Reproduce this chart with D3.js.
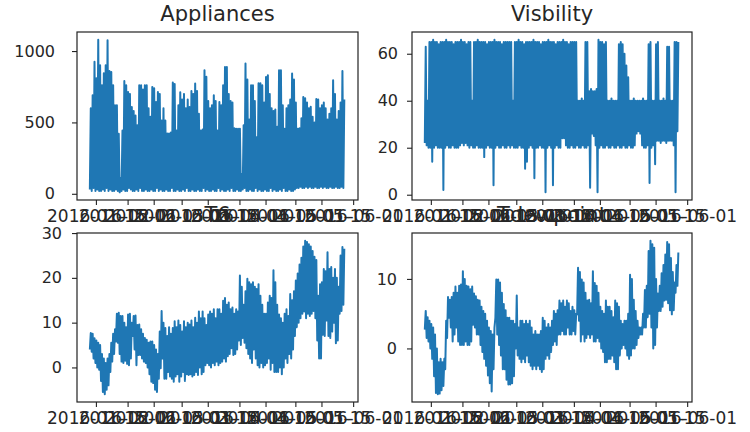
<!DOCTYPE html>
<html>
<head>
<meta charset="utf-8">
<script src="https://cdn.jsdelivr.net/npm/d3@7"></script>
<style>
  body { margin: 0; background: #fff; }
  text { font-family: "DejaVu Sans", sans-serif; }
</style>
</head>
<body>
<div id="chart"></div>
<script>
const width = 750;
const height = 432;

// Time axis: one low sample per day, the day's high 12h later
const startTime = "2016-01-11T18:00";
const dataRange = ["2016-01-11T17:00", "2016-05-27T18:00"];
const tickDates = ["2016-01-15", "2016-02-01", "2016-02-15", "2016-03-01", "2016-03-15",
                   "2016-04-01", "2016-04-15", "2016-05-01", "2016-05-15", "2016-06-01"];

const titles = ["Appliances", "Visbility", "T6", "Tdewpoint"];

const appliancesHigh = [
  600, 690, 925, 810, 1080, 900, 760, 845, 900, 1075,
  860, 854, 760, 620, 620, 420, 110, 444, 791, 760,
  713, 700, 608, 580, 549, 480, 760, 760, 730, 760,
  760, 600, 540, 749, 740, 643, 713, 700, 514, 600,
  514, 422, 422, 430, 780, 770, 444, 620, 712, 660,
  700, 600, 660, 608, 720, 700, 772, 720, 560, 444,
  450, 866, 820, 650, 600, 620, 690, 650, 444, 643,
  620, 760, 889, 889, 700, 650, 640, 460, 455, 455,
  455, 138, 480, 913, 800, 520, 760, 760, 650, 396,
  775, 775, 760, 640, 819, 830, 700, 600, 580, 590,
  470, 866, 866, 620, 455, 600, 620, 660, 843, 800,
  640, 455, 460, 530, 678, 670, 640, 600, 610, 540,
  500, 664, 660, 600, 620, 640, 600, 520, 560, 600,
  796, 700, 520, 580, 640, 860, 660
];
const appliancesLow = [
  30, 20, 40, 20, 30, 20, 20, 30, 20, 40,
  20, 30, 20, 20, 30, 20, 10, 20, 30, 20,
  20, 40, 30, 20, 20, 30, 20, 40, 20, 20,
  30, 20, 20, 30, 20, 20, 40, 20, 30, 20,
  20, 30, 20, 20, 40, 20, 20, 30, 20, 20,
  30, 20, 40, 20, 20, 30, 20, 20, 30, 20,
  20, 40, 20, 30, 20, 20, 30, 20, 20, 40,
  20, 30, 20, 20, 30, 20, 40, 20, 20, 30,
  20, 20, 30, 40, 20, 20, 30, 20, 20, 40,
  20, 30, 20, 20, 30, 20, 20, 40, 20, 30,
  20, 20, 30, 20, 40, 20, 20, 30, 20, 20,
  30, 40, 40, 50, 40, 40, 50, 40, 50, 40,
  40, 50, 40, 40, 50, 40, 50, 40, 40, 50,
  40, 40, 50, 40, 40, 50, 40
];

const visibilityHigh = [
  63, 40, 65, 65, 66, 65, 65, 64, 65, 65,
  65, 66, 65, 65, 65, 64, 65, 65, 65, 66,
  65, 65, 64, 65, 65, 40, 65, 65, 66, 65,
  65, 65, 65, 64, 65, 65, 65, 66, 65, 65,
  65, 64, 65, 65, 65, 65, 65, 40, 65, 65,
  66, 65, 65, 64, 65, 65, 65, 65, 66, 65,
  65, 65, 64, 65, 65, 65, 66, 65, 65, 65,
  64, 65, 65, 65, 66, 65, 65, 64, 65, 65,
  65, 65, 40, 40, 41, 40, 65, 65, 44, 45,
  44, 44, 45, 66, 65, 65, 64, 65, 40, 40,
  41, 40, 40, 40, 64, 65, 64, 60, 55, 50,
  40, 40, 41, 40, 40, 40, 40, 41, 40, 40,
  64, 65, 40, 40, 64, 65, 40, 40, 41, 40,
  63, 63, 40, 40, 65, 65, 65
];
const visibilityLow = [
  22, 21, 20, 20, 14, 20, 21, 20, 20, 20,
  2, 20, 21, 20, 20, 21, 20, 20, 20, 21,
  22, 21, 22, 21, 20, 21, 20, 20, 21, 20,
  20, 20, 16, 20, 21, 20, 20, 4, 20, 21,
  20, 20, 21, 20, 20, 21, 20, 21, 20, 20,
  20, 21, 20, 20, 11, 14, 20, 21, 20, 7,
  20, 20, 21, 20, 20, 1, 20, 21, 20, 4,
  20, 21, 20, 20, 24, 24, 21, 20, 20, 21,
  20, 20, 21, 20, 20, 21, 20, 20, 21, 3,
  26, 25, 21, 1, 20, 21, 20, 20, 21, 20,
  20, 21, 20, 20, 21, 20, 20, 21, 20, 20,
  21, 20, 20, 21, 26, 27, 26, 21, 20, 20,
  21, 5, 20, 21, 13, 23, 23, 22, 23, 23,
  22, 23, 23, 23, 21, 1, 27
];

const t6High = [
  7.7, 7.5, 6.5, 6, 5.5, 5, 3, 2, 1, 2,
  3, 5.5, 7.5, 8.5, 12, 12.2, 11.5, 11.5, 10, 9,
  11.8, 12, 10, 11.5, 11.6, 9.5, 9.6, 8.5, 7.5, 6.6,
  6.2, 5.5, 5.8, 5.8, 5, 4, 3, 8, 12.6, 10,
  8.8, 7, 9, 7.5, 8.8, 10.3, 9, 10.5, 9.5, 8,
  10.3, 9, 10, 9.6, 10.5, 9, 11.1, 10, 12.5, 11,
  12.5, 11, 9.5, 11.8, 12.5, 12, 13, 11, 13, 13,
  12, 14.9, 15.5, 14, 14.5, 13, 13.4, 12, 13, 12.5,
  20.5, 18, 14, 17, 19.8, 19, 18.6, 19, 18, 17.5,
  18.6, 16, 14, 12, 12, 14.5, 16, 15.5, 21.7, 19,
  14, 11.8, 11, 10, 12, 13, 11.5, 16.4, 15, 17,
  19.4, 21, 23, 24.5, 27, 28.3, 28, 27.5, 27, 26,
  24.7, 24, 16, 18.6, 19, 22, 21.5, 25.7, 22, 22.4,
  20, 22, 20, 18, 25, 26.9, 26.5
];
const t6Low = [
  4, 3.5, 2, 1, 0, -0.5, -3, -5.5, -6, -5,
  -4, -1, 1.3, 3, 5.8, 5.5, 3, 1.3, 1, 1.5,
  0.8, 0.5, 2, 7, 4, 0.5, 2.8, 2.8, 2, 1.3,
  1, 0, -1.5, -3.2, -3.5, -5, -5.5, -2.5, -0.2, 2,
  -2.5, -2.5, -1, -2, -2.5, -3.2, -2, -1.5, -3.2, -2,
  -1, -3, -1.5, -1.7, -1.5, -2, -1.7, -1, -1.7, 0,
  -1.5, -1, 0.5, 1, 0.5, 0, 1, 0.5, 1.3, 0.5,
  1, 1.3, 2, 1.3, 2.5, 3, 4.3, 2.8, 3, 4,
  6, 5, 6.6, 5.5, 4.3, 3, 2, 1, 4, 2,
  0.5, 0, 1, 0, 0.5, 1, 2, -0.5, 1, -1,
  -1, -1, 0, -1.5, 0, 2, 1, 3, 2, 4,
  7, 9, 10, 11, 12, 12.5, 11, 12, 11.5, 12,
  12.6, 11, 6, 2, 2, 7.3, 7, 10.5, 7, 6.6,
  8, 10, 5.4, 6, 12, 12.6, 14
];

const dewHigh = [
  5.4, 4.5, 4, 3.5, 3, 2, 0, -2, -1.5, -2,
  -1.5, 4, 7.4, 7, 7.4, 8, 8.9, 8, 9, 9.2,
  11.1, 10, 9, 8.9, 8.5, 8.9, 7.9, 7.5, 7, 6.9,
  6, 5.4, 5, 4, 3, 2.5, 2, 3, 9.9, 9.9,
  9.5, 8, 6.4, 5.5, 4.4, 4.4, 4, 4, 3.5, 7.6,
  3, 4, 4, 3.5, 4, 3.5, 4, 3, 2, 2.5,
  2, 2, 2.5, 4.4, 4, 3, 3.5, 3, 4, 5.4,
  5, 5.5, 6.9, 6.5, 6.9, 6, 6.9, 6.5, 5.4, 6,
  5.5, 5, 11.6, 11, 9.9, 9.5, 8, 6.9, 7, 6.5,
  11.1, 9.4, 9, 8, 6, 5.4, 5, 6.9, 6, 6,
  5.4, 4.5, 6.9, 6.5, 6, 4, 3.5, 4, 4, 5,
  10.6, 10, 7, 5.4, 4, 3, 3, 5, 8.4, 9,
  14, 15.5, 15, 14.5, 10, 7.9, 9, 10.8, 12, 13.5,
  15.3, 15, 13, 11, 9.5, 12, 13.8
];
const dewLow = [
  2.7, 1.5, 1, 0, -1.5, -4, -6.4, -6.6, -6.5, -6,
  -5.4, -3, 1.5, 4.4, 3, 1, 2, 3, 1, 0.5,
  0.5, 0.5, 1, 0.5, 0.5, 1, 3.4, 3, 2, 2,
  0.5, -0.5, -1.5, -2.5, -3.9, -5, -6.2, -3, 4.4, 2,
  0.5, -1, -3, -3, -4.5, -5.2, -5.2, -5, -4, 0,
  -1, -1.5, -2, -1.5, -2, -1, -2, -2.5, -3, -2.5,
  -3, -2.5, -3, -3.4, -3, -1.5, -1, -1.5, -0.5, 0.5,
  1, 0.5, 2, 2, 2.5, 2, 2, 3, 2, 2,
  2.5, 2, 4.9, 4, 1, 2, 1, 1.5, 2, 1.5,
  2, 1, 1, 1.5, 1, 0, -0.5, -2, -2, -1.5,
  -1.5, -1, -2, -3, -3, -1, 0, 0.5, 0, -1,
  -1.5, -1, 0, 0, 0.5, 1.5, 2, 2, 3, 3,
  4.5, 5, 3, 0, 0.5, 3, 5.4, 5.4, 6, 6.9,
  7, 6.5, 5.5, 4.9, 5.5, 8, 9
];

const yTicks = [[0, 500, 1000], [0, 20, 40, 60], [0, 10, 20, 30], [0, 10]];

const parseTime = d3.utcParse("%Y-%m-%dT%H:%M");
const parseDay = d3.utcParse("%Y-%m-%d");
const fmt = d3.utcFormat("%Y-%m-%d");
const day = 864e5;
const t0 = parseTime(startTime);

// alternate low / high so the dense series reads as a filled band
function zigzag(lo, hi) {
  const pts = [];
  lo.forEach((v, i) => {
    pts.push([new Date(+t0 + i * day), v]);
    pts.push([new Date(+t0 + i * day + day / 2), hi[i]]);
  });
  return pts;
}

const series = [
  zigzag(appliancesLow, appliancesHigh),
  zigzag(visibilityLow, visibilityHigh),
  zigzag(t6Low, t6High),
  zigzag(dewLow, dewHigh)
];

const boxes = [
  {x0: 77, x1: 358, y0: 32, y1: 200, pad: 17},
  {x0: 412, x1: 692, y0: 32, y1: 200, pad: 9},
  {x0: 77, x1: 358, y0: 233, y1: 402, pad: 10},
  {x0: 412, x1: 692, y0: 233, y1: 402, pad: 10}
];

const svg = d3.select("#chart")
  .append("svg")
  .attr("width", width)
  .attr("height", height);

// matplotlib-like 5% margins on both axes
const xr = dataRange.map(parseTime);
const xPad = (xr[1] - xr[0]) * 0.05;
const xDomain = [new Date(+xr[0] - xPad), new Date(+xr[1] + xPad)];

series.forEach((pts, k) => {
  const b = boxes[k];
  const x = d3.scaleUtc().domain(xDomain).range([b.x0, b.x1]);
  const ext = d3.extent(pts, d => d[1]);
  const yPad = (ext[1] - ext[0]) * 0.05;
  const y = d3.scaleLinear().domain([ext[0] - yPad, ext[1] + yPad]).range([b.y1, b.y0]);

  const g = svg.append("g");

  g.append("path")
    .datum(pts)
    .attr("fill", "none")
    .attr("stroke", "#1f77b4")
    .attr("stroke-width", 2)
    .attr("stroke-linejoin", "round")
    .attr("d", d3.line().x(d => x(d[0])).y(d => y(d[1])));

  g.append("rect")
    .attr("x", b.x0)
    .attr("y", b.y0)
    .attr("width", b.x1 - b.x0)
    .attr("height", b.y1 - b.y0)
    .attr("fill", "none")
    .attr("stroke", "#222")
    .attr("stroke-width", 1.2);

  const ax = g.append("g")
    .attr("transform", `translate(0,${b.y1})`)
    .call(d3.axisBottom(x).tickValues(tickDates.map(parseDay)).tickFormat(fmt).tickSize(5).tickPadding(5));
  const ay = g.append("g")
    .attr("transform", `translate(${b.x0},0)`)
    .call(d3.axisLeft(y).tickValues(yTicks[k]).tickFormat(d3.format("d")).tickSize(5).tickPadding(b.pad));

  [ax, ay].forEach(a => {
    a.select(".domain").remove();
    a.selectAll("line").attr("stroke", "#222").attr("stroke-width", 1.1);
    a.selectAll("text")
      .attr("fill", "#262626")
      .style("font-family", "'DejaVu Sans', sans-serif")
      .style("font-size", "16px");
  });
  ax.selectAll("text").style("font-size", "17px");

  g.append("text")
    .attr("x", (b.x0 + b.x1) / 2)
    .attr("y", b.y0 - 11)
    .attr("text-anchor", "middle")
    .attr("fill", "#262626")
    .style("font-size", "21px")
    .text(titles[k]);
});
</script>
</body>
</html>
